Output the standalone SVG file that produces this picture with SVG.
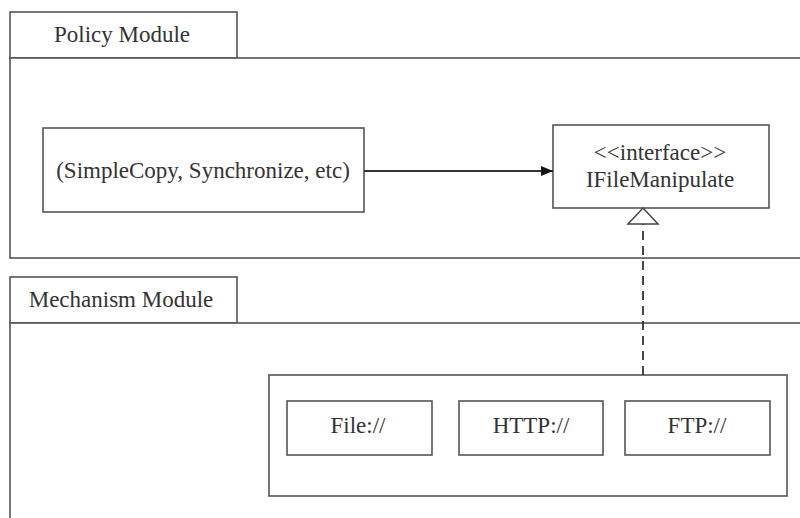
<svg xmlns="http://www.w3.org/2000/svg" width="800" height="518" viewBox="0 0 800 518">
<style>
.b{fill:#fff;stroke:#555;stroke-width:1.6}
.t{font-family:"Liberation Serif","Times New Roman",serif;font-size:23px;fill:#333;text-anchor:middle}
.c{stroke:#333;stroke-width:1.8;fill:none}
</style>
<defs>
<marker id="fa" markerWidth="12" markerHeight="10" refX="12" refY="5" orient="auto" markerUnits="userSpaceOnUse"><path d="M0,0 L12,5 L0,10 Z" fill="#111"/></marker>
</defs>
<rect width="800" height="518" fill="#fff"/>
<g id="policy-module">
<rect class="b" x="10" y="12" width="227" height="46"/>
<rect class="b" x="10" y="58" width="800" height="200"/>
<text class="t" x="122" y="42">Policy Module</text>
</g>
<g id="mechanism-module">
<rect class="b" x="10" y="277" width="227" height="46"/>
<rect class="b" x="10" y="323" width="800" height="210"/>
<text class="t" x="121" y="307">Mechanism Module</text>
</g>
<g id="policy">
<rect class="b" x="43" y="128" width="321" height="84"/>
<text class="t" x="203" y="178">(SimpleCopy, Synchronize, etc)</text>
</g>
<g id="ifilemanipulate">
<rect class="b" x="553" y="125" width="216" height="83"/>
<text class="t" x="660" y="160">&lt;&lt;interface&gt;&gt;</text>
<text class="t" x="660" y="187">IFileManipulate</text>
</g>
<g id="implementations">
<rect class="b" x="269" y="375" width="518" height="121"/>
</g>
<g id="file">
<rect class="b" x="287" y="401" width="145" height="54"/>
<text class="t" x="358" y="433">File://</text>
</g>
<g id="http">
<rect class="b" x="459" y="401" width="144" height="54"/>
<text class="t" x="531" y="433">HTTP://</text>
</g>
<g id="ftp">
<rect class="b" x="625" y="401" width="145" height="54"/>
<text class="t" x="697" y="433">FTP://</text>
</g>
<g id="connectors">
<line class="c" x1="364" y1="171" x2="553" y2="171" marker-end="url(#fa)"/>
<line class="c" x1="643" y1="375" x2="643" y2="224" stroke-dasharray="9,6" stroke-width="1.5"/>
<polygon points="643,208 658,224 628,224" fill="#fff" stroke="#444" stroke-width="1.5"/>
</g>
</svg>
